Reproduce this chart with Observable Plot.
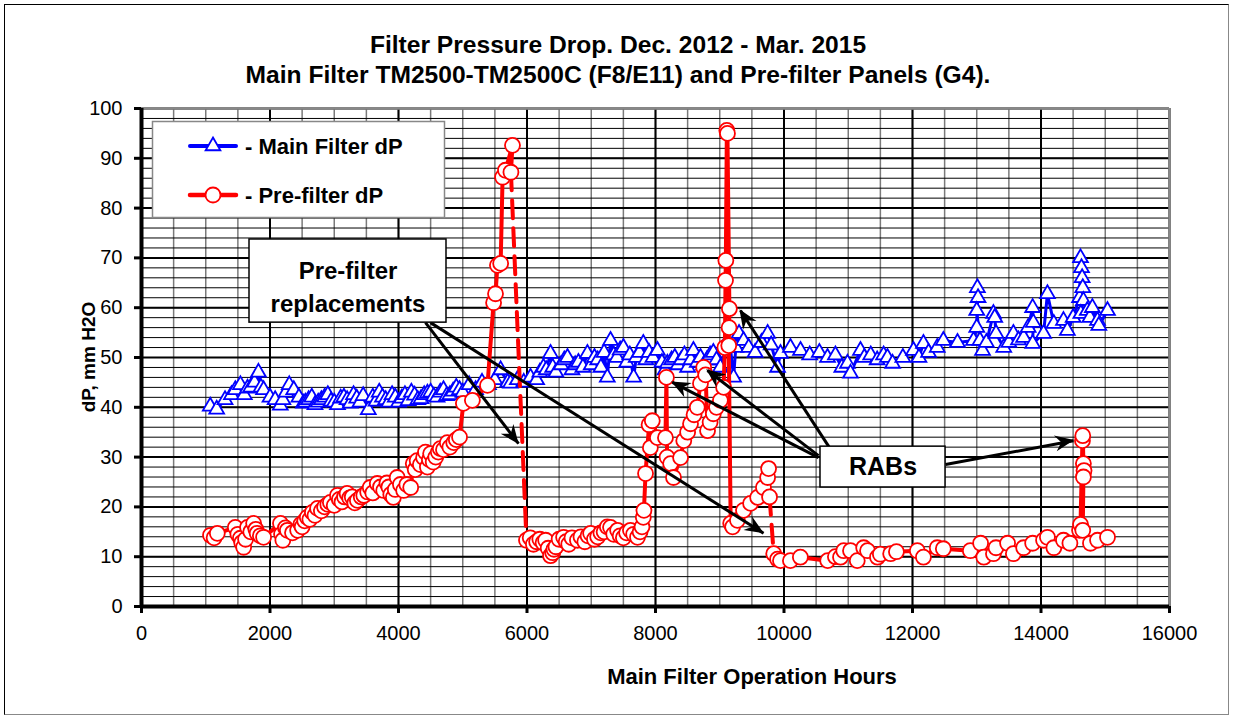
<!DOCTYPE html>
<html><head><meta charset="utf-8">
<script src="https://cdn.jsdelivr.net/npm/d3@7"></script>
<script src="https://cdn.jsdelivr.net/npm/@observablehq/plot@0.6"></script>
<style>
body{margin:0;background:#fff;font-family:"Liberation Sans",Arial,sans-serif;}
#wrap{position:relative;width:1236px;height:719px;overflow:hidden;background:#fff;}
#border{position:absolute;left:4px;top:4px;width:1225px;height:711px;border:1.5px solid #000;border-right-color:#888;border-bottom-color:#888;box-sizing:border-box;}
#chart{position:absolute;left:0;top:0;}
#over{position:absolute;left:0;top:0;pointer-events:none;}
</style></head><body>
<div id="wrap"><div id="border"></div><div id="chart"></div>
<svg id="over" width="1236" height="719" font-family="Liberation Sans, Arial, sans-serif"></svg></div>
<script>
// ---- axis ticks ----
const xTicks = [0,2000,4000,6000,8000,10000,12000,14000,16000];
const yTicks = [0,10,20,30,40,50,60,70,80,90,100];

// ---- Main filter dP (blue triangles) ----
const blueHours = [1070,1170,1300,1400,1460,1540,1600,1650,1700,1760,1820,1860,1900,2000,2080,2160,2200,2250,2300,2370,2450,2520,2550,2600,2650,2700,2750,2800,2850,2900,2950,3000,3050,3100,3150,3200,3250,3300,3350,3400,3450,3530,3600,3650,3700,3750,3800,3850,3900,3950,4000,4050,4100,4150,4200,4250,4300,4350,4400,4450,4500,4550,4600,4650,4700,4750,4800,4850,4900,4950,5000,
  5100,5200,5300,5400,5500,5590,5700,5743,5850,5950,6055,6150,6200,6257,6300,6366,6400,6450,6530,6580,6630,6700,6750,6800,6870,6940,7000,7050,7100,7150,7200,7250,7300,7350,7400,7450,7500,7550,7600,7660,7700,7750,7810,7850,7900,7960,8030,8100,8150,8185,8250,8300,8350,8400,8450,8500,8550,8590,8650,8700,8750,8800,8850,8900,8950,9010,
  9100,9150,9215,9250,9300,9370,9450,9550,9650,9745,9800,9900,9945,10100,10257,10400,10550,10677,10800,10900,10988,11035,11190,11250,11350,11450,11550,11610,11690,11850,12015,12100,12170,12250,12385,12480,12700,12950,13000,13010,13020,13000,13050,13090,13150,13260,13280,13300,13420,13500,13570,13650,13730,13800,13870,13880,13870,14040,14100,14200,14350,14410,14500,14600,14615,14630,14640,14650,14660,14620,14720,14760,14800,14880,14900,15035];
const blueDP = [40.2,39.6,41.5,42.5,43.5,44.5,42.5,43.8,44,45,47,44,43.5,42,41.5,40.4,41.5,43,44.5,43.5,42,40.8,41,41.5,42,40.5,41,41.5,42,42.5,41.2,41,40.5,41.8,42,41.5,40.8,42.5,41.8,41,42.3,39.5,42,41.2,43,42,41.5,41,42.5,42,41,41.8,42.5,41.3,43,42.4,41.5,41.7,42.5,42.8,43,42.2,42,43,43.5,42.3,42.5,43.2,44,43.5,43,
  44.5,43.5,45,44.5,45.5,47.5,45,44.8,45.5,45,46,45.5,47,48,47.5,50.8,48,47,48.5,49.5,50,47.5,48.5,49,48,50.8,48.5,50,49.5,48,51,46,53.4,50.5,50,51.5,52,49,50.5,46,50,51,52.8,49.5,51,50,51.4,49,47.5,48.8,49.5,50,48.5,49.5,50.5,48,49.5,51.4,49,50,48.5,49.5,50.5,51,49.5,48,
  52,54,46,52,54.8,53.4,52,51,53,54.8,52.5,48,50.8,52,51.4,50.5,51,50,50.5,48,48.8,46.8,51.4,50,50.5,49.5,50.5,50,48.8,50,51.4,50,52.8,51,52,53.4,53,53.4,56,64,62,59.4,53.4,51.4,53,58.8,58,54.8,52,53,54.8,53.5,54,56,60,57,52.8,54.8,62.8,56.8,57.4,55.4,58,62,70,68,66,64,61.4,58.8,59.4,58,60,57.4,56.4,59.4];

// ---- Pre-filter dP (red circles) ----
const redHours = [1074,1130,1180,1460,1500,1540,1560,1590,1620,1650,1700,1745,1780,1800,1850,1900,2163,2180,2200,2240,2270,2350,2430,2480,2500,2540,2580,2620,2660,2700,2740,2800,2850,2900,2940,3000,3050,3080,3120,3160,3200,3240,3280,3320,3360,3420,3460,3520,3560,3600,3670,3720,3770,3820,3850,3880,3920,3950,3980,4030,4080,4130,4190,4230,4260,4290,4340,4390,4420,4450,4480,4500,4540,4580,4620,4650,4700,4760,4800,4860,4900,4950,5010,5150,5385,5480,5510,5540,5590,5620,5665,5774,5750,
  5992,6050,6100,6150,6200,6250,6290,6330,6366,6400,6420,6450,6500,6570,6610,6650,6700,6785,6840,6900,6950,6990,7050,7100,7150,7200,7250,7300,7350,7410,7450,7500,7550,7610,7660,7720,7760,7790,7810,7820,7845,7900,7920,7950,8030,8155,8170,8180,8235,8280,8390,8440,8500,8545,8600,8650,8700,8750,8780,8810,8850,8900,8950,9010,9060,9080,9090,9095,9110,9120,9150,9145,9140,9170,9200,9275,9370,9480,9590,9680,9745,9760,9775,
  9840,9900,9945,10100,10255,10680,10800,10880,10930,11035,11140,11240,11300,11455,11500,11660,11750,12075,12170,12385,12480,12900,13060,13110,13260,13300,13480,13570,13730,13870,14040,14100,14200,14350,14450,14600,14615,14645,14650,14660,14670,14660,14650,14770,14880,15035];
const redDP = [14.3,13.8,14.7,15.9,14.5,13.7,12.8,11.9,13.5,15.9,15,16.7,15.5,14.7,14.2,13.9,16.7,14.5,13.3,15.8,15.3,14.8,15.3,16.5,16,17.2,17.9,17.5,18.9,18.3,19.7,19.2,20,20.5,20.9,20.3,22.3,21.5,21,22,22.7,21.8,22,20.8,21.3,22,22.3,23,23.9,22.8,24.7,24,23.3,24.8,24,22.5,21.9,23.5,25.9,24.5,23.3,24.5,23.9,28.7,27.5,29.3,28.5,29.9,31,28,29.5,30.7,29,30,31,31.7,31.5,32.9,32,32.9,33.5,34,40.8,41.4,44.4,61,62.8,68.5,68.9,86.2,87.6,92.6,87.2,
  13.3,13.8,12.5,13,13.5,12.8,13.3,11.7,10.2,10.8,11.5,12,13.5,13.9,13,12.5,13.8,13.3,14,13,14.2,14.7,13.5,14,14.8,15,16,15.9,14.5,15.3,14.2,13.8,14.8,15.3,14.5,13.9,15,16,17.9,19.3,26.7,36.5,31.9,37.3,33.9,33.9,46,30,28.7,25.9,29.9,33.3,35,36.7,38.5,40,44.8,48,46.5,35.3,37,38.7,40,41.4,44,52,65.5,69.5,95.6,95,59.8,56,52.4,16.7,16,17.3,19.3,20.7,21.9,23.9,25.9,27.7,22,
  10.6,9.5,9.2,9.2,9.9,9.2,10,9.9,11.2,11.2,9.2,11.8,11.2,9.9,10.5,10.6,11,11.2,9.9,11.8,11.6,11.2,12.7,9.9,10.6,11.8,12.7,10.6,11.8,12.7,13.3,13.9,11.8,13.3,12.7,15.3,16.5,33.3,34.3,28.7,27.3,26,15.3,12.7,13.3,13.9];
// pre-filter replacements: [last hour before, first hour after] (drawn dashed)
const replacements = [[5750,5992],[9775,9840]];

// ---- annotations ----
const boxX1 = [1681, 10568], boxX2 = [4747, 12514], boxY1 = [57.0, 23.9], boxY2 = [73.7, 32.1];
const noteText = ["Pre-filter","replacements","RABs"];
const noteX = [3214, 3214, 11541], noteY = [67.3, 60.6, 28.0], noteSize = [24, 24, 25];
const arrowX1 = [4420, 4498, 10537, 10537, 10708, 12514];
const arrowY1 = [57.0, 57.0, 29.9, 30.3, 31.9, 28.5];
const arrowX2 = [5868, 9681, 8265, 8809, 9323, 14506];
const arrowY2 = [32.7, 14.7, 45.0, 47.4, 59.4, 33.3];

// ---- build tables ----
const blue = blueHours.map((h,i)=>({h, v: blueDP[i]}));
const red = redHours.map((h,i)=>({h, v: redDP[i]}));
const breakIdx = replacements.map(([a,b]) => red.findIndex((d,i)=> d.h===a && red[i+1] && red[i+1].h===b));
let seg = 0;
const redSolid = red.map((d,i)=>{ if (breakIdx.includes(i-1)) seg++; return {...d, seg}; });
const redDashed = breakIdx.flatMap((i,k)=>[{...red[i], seg:k},{...red[i+1], seg:k}]);
const boxes = boxX1.map((x,i)=>({x1:x, x2:boxX2[i], y1:boxY1[i], y2:boxY2[i]}));
const notes = noteText.map((t,i)=>({t, x:noteX[i], y:noteY[i], s:noteSize[i]}));
const arrows = arrowX1.map((x,i)=>({x1:x, y1:arrowY1[i], x2:arrowX2[i], y2:arrowY2[i]}));
const xMinor = d3.range(0, 16001, 500), yMinor = d3.range(0, 101, 2);

const font = '"Liberation Sans", Arial, sans-serif';
const chart = Plot.plot({
  width: 1236, height: 719,
  marginLeft: 141, marginRight: 67, marginTop: 108, marginBottom: 113,
  style: {fontFamily: font, fontSize: "20px", color: "#000", background: "transparent", overflow: "visible"},
  x: {domain: [0, 16000]},
  y: {domain: [0, 100]},
  marks: [
    Plot.ruleX(xMinor, {stroke: "#7a7a7a", strokeWidth: 1.5}),
    Plot.ruleY(yMinor, {stroke: "#000", strokeWidth: 1}),
    Plot.ruleY(yTicks, {stroke: "#000", strokeWidth: 2}),
    Plot.ruleX(xTicks, {stroke: "#000", strokeWidth: 2}),
    Plot.ruleY([100], {stroke: "#888", strokeWidth: 2.5}),
    Plot.ruleX([16000], {stroke: "#888", strokeWidth: 2.5}),
    Plot.ruleX([0], {stroke: "#000", strokeWidth: 4}),
    Plot.ruleY([0], {stroke: "#000", strokeWidth: 4}),
    Plot.axisX(xTicks, {tickSize: 7, tickPadding: 12, tickFormat: "d", strokeWidth: 3, label: null, fontSize: 20}),
    Plot.axisY(yTicks, {tickSize: 7, tickPadding: 12, tickFormat: "d", strokeWidth: 3, label: null, fontSize: 20}),
    Plot.line(blue, {x: "h", y: "v", stroke: "#0000ff", strokeWidth: 3}),
    Plot.dot(blue, {x: "h", y: "v", symbol: "triangle", r: 5.5, fill: "white", stroke: "#0000ff", strokeWidth: 1.8}),
    Plot.line(redSolid, {x: "h", y: "v", z: "seg", stroke: "#ff0000", strokeWidth: 4}),
    Plot.line(redDashed, {x: "h", y: "v", z: "seg", stroke: "#ff0000", strokeWidth: 4, strokeDasharray: "18,10"}),
    Plot.dot(red, {x: "h", y: "v", r: 7.5, fill: "white", stroke: "#ff0000", strokeWidth: 1.8}),
    Plot.link(arrows, {x1: "x1", y1: "y1", x2: "x2", y2: "y2", stroke: "#000", strokeWidth: 3}),
    Plot.rect(boxes, {x1: "x1", x2: "x2", y1: "y1", y2: "y2", fill: "white", stroke: "#000", strokeWidth: 1.5}),
    Plot.text(notes, {x: "x", y: "y", text: "t", fontSize: "s", fontWeight: "bold", textAnchor: "middle", lineAnchor: "middle", fill: "#000"})
  ]
});
document.getElementById("chart").appendChild(chart);

// filled arrowheads, placed with the plot's own scales
const sx = chart.scale("x"), sy = chart.scale("y");
const heads = d3.select(chart).append("g");
arrows.forEach(a => {
  const x1 = sx.apply(a.x1), y1 = sy.apply(a.y1), x2 = sx.apply(a.x2), y2 = sy.apply(a.y2);
  const ang = Math.atan2(y2 - y1, x2 - x1), c = Math.cos(ang), s = Math.sin(ang);
  const pts = [[1,0],[-18,-8],[-12,0],[-18,8]].map(([u,v]) => [x2 + u*c - v*s, y2 + u*s + v*c]);
  heads.append("path").attr("d", "M" + pts.map(p => p.join(",")).join("L") + "Z").attr("fill", "#000");
});

// titles, axis titles, legend
const over = d3.select("#over");
over.append("text").attr("x", 618).attr("y", 53).attr("text-anchor", "middle").attr("font-weight", "bold").attr("font-size", 24.6).text("Filter Pressure Drop. Dec. 2012 - Mar. 2015");
over.append("text").attr("x", 618).attr("y", 83).attr("text-anchor", "middle").attr("font-weight", "bold").attr("font-size", 24.6).text("Main Filter TM2500-TM2500C (F8/E11) and Pre-filter Panels (G4).");
over.append("text").attr("x", 752).attr("y", 684).attr("text-anchor", "middle").attr("font-weight", "bold").attr("font-size", 22).text("Main Filter Operation Hours");
over.append("text").attr("transform", "translate(95,357) rotate(-90)").attr("text-anchor", "middle").attr("font-weight", "bold").attr("font-size", 19).text("dP, mm H2O");
const lg = over.append("g");
lg.append("rect").attr("x", 152.5).attr("y", 121.5).attr("width", 292).attr("height", 96).attr("fill", "white").attr("stroke", "#888").attr("stroke-width", 1.5);
const legendItems = [["- Main Filter dP", "#0000ff", "tri", 146], ["- Pre-filter dP", "#ff0000", "circ", 195]];
legendItems.forEach(([label, color, shape, y]) => {
  lg.append("line").attr("x1", 190).attr("x2", 236).attr("y1", y).attr("y2", y).attr("stroke", color).attr("stroke-width", shape === "tri" ? 4 : 4.5).attr("stroke-linecap", "round");
  if (shape === "tri") lg.append("path").attr("d", d3.symbol(d3.symbolTriangle, Math.PI * 30)()).attr("transform", `translate(213,${y})`).attr("fill", "white").attr("stroke", color).attr("stroke-width", 1.8);
  else lg.append("circle").attr("cx", 213).attr("cy", y).attr("r", 7.5).attr("fill", "white").attr("stroke", color).attr("stroke-width", 1.8);
  lg.append("text").attr("x", 245).attr("y", y + 8).attr("font-weight", "bold").attr("font-size", 22).text(label);
});
</script></body></html>
